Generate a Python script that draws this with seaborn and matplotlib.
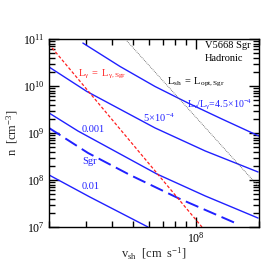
#!/usr/bin/env python3
"""Shock density vs velocity constraints for V5668 Sgr (hadronic case)."""

import matplotlib

matplotlib.use("Agg")
import matplotlib.pyplot as plt
import seaborn as sns
from matplotlib.ticker import FixedLocator, NullFormatter

# shock velocity (cm/s) and density (cm^-3)
v_ratio_45e4 = [2.90e7, 4.36e7, 6.40e7, 9.18e7, 1.33e8, 2.00e8]
n_ratio_45e4 = [8.2e10, 2.60e10, 9.75e9, 4.35e9, 1.99e9, 8.6e8]

v_ratio_5e4 = [2.0e7, 3.03e7, 6.40e7, 1.11e8, 1.98e8]
n_ratio_5e4 = [2.54e10, 7.64e9, 1.28e9, 4.14e8, 1.48e8]

v_ratio_1e3 = [2.0e7, 2.75e7, 6.53e7, 1.11e8, 1.98e8]
n_ratio_1e3 = [2.67e9, 1.10e9, 1.34e8, 4.57e7, 1.55e7]

v_sgr = [2.0e7, 3.07e7, 4.86e7, 8.22e7, 1.54e8]
n_sgr = [1.28e9, 3.75e8, 1.28e8, 4.14e7, 1.22e7]

v_ratio_1e2 = [2.0e7, 3.13e7, 5.92e7]
n_ratio_1e2 = [1.28e8, 4.35e7, 1.0e7]

v_lgamma = [2.07e7, 1.07e8]
n_lgamma = [6.44e10, 1.0e7]

v_lsh = [4.70e7, 2.0e8]
n_lsh = [9.07e10, 7.1e7]

BLUE = "#2020ff"
RED = "#ff2020"

sns.set_style("ticks")
plt.rcParams["font.family"] = ["Liberation Serif", "DejaVu Serif"]
plt.rcParams["mathtext.fontset"] = "custom"
plt.rcParams["mathtext.rm"] = "Liberation Serif"
plt.rcParams["mathtext.it"] = "Liberation Serif:italic"
plt.rcParams["mathtext.bf"] = "Liberation Serif:bold"

fig = plt.figure(figsize=(2.69, 2.69), dpi=100)
ax = fig.add_axes([49 / 269, 42 / 269, 210 / 269, 188 / 269])

for vx, ny in [(v_ratio_45e4, n_ratio_45e4), (v_ratio_5e4, n_ratio_5e4),
               (v_ratio_1e3, n_ratio_1e3), (v_ratio_1e2, n_ratio_1e2)]:
    sns.lineplot(x=vx, y=ny, ax=ax, color=BLUE, lw=1.0)
sns.lineplot(x=v_sgr, y=n_sgr, ax=ax, color=BLUE, lw=1.4, linestyle=(0, (7, 3)))
sns.lineplot(x=v_lgamma, y=n_lgamma, ax=ax, color=RED, lw=0.9, linestyle=(0, (2.5, 1.6)))
sns.lineplot(x=v_lsh, y=n_lsh, ax=ax, color="#555555", lw=0.6, linestyle=(0, (1, 1.2)))

ax.set_xscale("log")
ax.set_yscale("log")

x_minor = [k * 10.0**e for e in (7, 8) for k in range(2, 10)]
y_minor = [k * 10.0**e for e in range(7, 11) for k in range(2, 10)]
ax.set_xticks([1e8])
ax.set_xticklabels([r"$\rm 10^{8}$"])
ax.set_yticks([10.0**e for e in range(7, 12)])
ax.set_yticklabels([rf"$\rm 10^{{{e}}}$" for e in range(7, 12)])
ax.xaxis.set_minor_locator(FixedLocator(x_minor))
ax.yaxis.set_minor_locator(FixedLocator(y_minor))
ax.xaxis.set_minor_formatter(NullFormatter())
ax.yaxis.set_minor_formatter(NullFormatter())
ax.set_xlim(2e7, 2e8)
ax.set_ylim(1e7, 1e11)
ax.tick_params(which="both", direction="in", top=True, right=True,
               bottom=True, left=True, color="black", labelcolor="black",
               labelsize=8.5)
ax.tick_params(which="major", length=7, width=1.0, pad=3)
ax.tick_params(which="minor", length=4, width=1.0)
for spine in ax.spines.values():
    spine.set_linewidth(1.0)
    spine.set_color("black")

ax.set_xlabel(r"$\rm v_{sh}\ \ [cm\ \ s^{-1}]$", fontsize=9)
ax.set_ylabel(r"$\rm n\ \ [cm^{-3}]$", fontsize=9)
ax.yaxis.set_label_coords(-0.14, 0.5)
ax.xaxis.set_label_coords(0.5, -0.1)

kw = dict(transform=ax.transAxes, fontsize=7.5, va="center", ha="left")
ax.text(0.743, 0.963, "V5668 Sgr", color="black", **kw)
ax.text(0.743, 0.894, "Hadronic", color="black", **kw)
ax.text(0.562, 0.771, r"$\rm L_{sh}\ =\ L_{opt,Sgr}$", color="black", **kw)
ax.text(0.14, 0.809, r"$\rm L_{\gamma}\ =\ L_{\gamma,Sgr}$", color=RED, **kw)
ax.text(0.655, 0.649, r"$\rm L_{\nu}/L_{\gamma}\!=\!4.5\!\times\!10^{-4}$",
        color=BLUE, transform=ax.transAxes, fontsize=7.1, va="center", ha="left")
ax.text(0.448, 0.580, r"$\rm 5\!\times\!10^{-4}$", color=BLUE, **kw)
ax.text(0.157, 0.521, "0.001", color=BLUE, **kw)
ax.text(0.157, 0.351, "Sgr", color=BLUE, **kw)
ax.text(0.157, 0.213, "0.01", color=BLUE, **kw)

fig.savefig("out.png", dpi=100)
plt.close(fig)
